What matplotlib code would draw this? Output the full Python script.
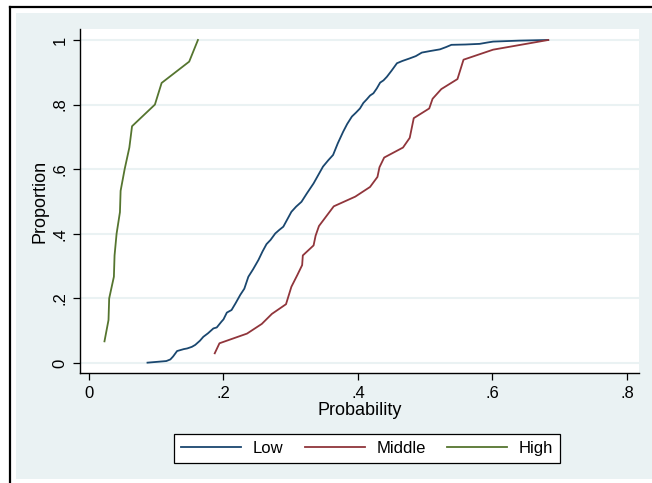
import numpy as np
import matplotlib
matplotlib.use('Agg')
import matplotlib.pyplot as plt
from matplotlib.patches import Rectangle

plt.rcParams['font.family'] = ['Liberation Sans', 'DejaVu Sans']

# Cumulative distributions
low_x = [0.087, 0.115, 0.121, 0.125, 0.131, 0.141, 0.146, 0.153, 0.158, 0.165, 0.170,
         0.177, 0.185, 0.190, 0.197, 0.200, 0.205, 0.212, 0.218, 0.225, 0.231, 0.237,
         0.244, 0.252, 0.258, 0.264, 0.270, 0.277, 0.283, 0.289, 0.295, 0.301, 0.308,
         0.316, 0.324, 0.334, 0.341, 0.348, 0.356, 0.363, 0.370, 0.378, 0.384, 0.391,
         0.397, 0.403, 0.408, 0.413, 0.418, 0.423, 0.428, 0.433, 0.438, 0.443, 0.450,
         0.458, 0.466, 0.477, 0.486, 0.495, 0.508, 0.522, 0.531, 0.539, 0.560, 0.581,
         0.592, 0.601, 0.640, 0.683]
low_y = [0.001, 0.006, 0.011, 0.020, 0.037, 0.043, 0.045, 0.050, 0.056, 0.069, 0.081,
         0.092, 0.107, 0.110, 0.128, 0.135, 0.156, 0.164, 0.185, 0.211, 0.230, 0.267,
         0.290, 0.319, 0.345, 0.368, 0.381, 0.401, 0.412, 0.422, 0.445, 0.468, 0.484,
         0.499, 0.525, 0.556, 0.582, 0.608, 0.628, 0.644, 0.680, 0.716, 0.740, 0.763,
         0.775, 0.788, 0.805, 0.816, 0.828, 0.835, 0.850, 0.868, 0.875, 0.886, 0.905,
         0.928, 0.935, 0.943, 0.950, 0.961, 0.966, 0.971, 0.978, 0.985, 0.986, 0.988,
         0.992, 0.995, 0.998, 1.000]

mid_x = [0.187, 0.194, 0.235, 0.257, 0.272, 0.293, 0.301, 0.310, 0.317, 0.318, 0.334,
         0.337, 0.342, 0.364, 0.396, 0.418, 0.429, 0.432, 0.439, 0.467, 0.477, 0.483,
         0.506, 0.511, 0.524, 0.548, 0.557, 0.601, 0.683]
mid_y = [0.030, 0.061, 0.091, 0.121, 0.152, 0.182, 0.236, 0.273, 0.303, 0.333, 0.364,
         0.394, 0.424, 0.485, 0.515, 0.545, 0.576, 0.606, 0.636, 0.667, 0.697, 0.758,
         0.788, 0.818, 0.848, 0.879, 0.939, 0.970, 1.000]

high_x = [0.023, 0.029, 0.030, 0.037, 0.038, 0.041, 0.046, 0.047, 0.053, 0.060, 0.064,
          0.098, 0.108, 0.149, 0.162]
high_y = [0.067, 0.133, 0.200, 0.267, 0.333, 0.400, 0.467, 0.533, 0.600, 0.667, 0.733,
          0.800, 0.867, 0.933, 1.000]

xticks = [0, 0.2, 0.4, 0.6, 0.8]
xlabels = ['0', '.2', '.4', '.6', '.8']
yticks = [0, 0.2, 0.4, 0.6, 0.8, 1]
ylabels = ['0', '.2', '.4', '.6', '.8', '1']

BG = '#eaf2f3'
W, H = 652, 483
fig = plt.figure(figsize=(W / 100, H / 100), dpi=100, facecolor='white')

# outer frame and shaded graph region
fig.patches.append(Rectangle((16 / W, 1 - 479 / H), 1, (479 - 13) / H,
                             transform=fig.transFigure, facecolor=BG, edgecolor='none', zorder=-10))
fig.add_artist(plt.Line2D([9.5 / W, 9.5 / W], [0, 1 - 6.5 / H], transform=fig.transFigure,
                          color='black', lw=1.6))
fig.add_artist(plt.Line2D([9.5 / W, 1], [1 - 6.5 / H, 1 - 6.5 / H], transform=fig.transFigure,
                          color='black', lw=1.6))

ax = fig.add_axes([80 / W, 1 - 373 / H, (639 - 80) / W, (373 - 29) / H])
ax.set_zorder(5)
ax.set_facecolor('white')

ax.plot(low_x, low_y, color='#1a476f', lw=1.3, label='Low')
ax.plot(mid_x, mid_y, color='#90353b', lw=1.3, label='Middle')
ax.plot(high_x, high_y, color='#55752f', lw=1.3, label='High')

ax.set_xlim(-0.0134, 0.818)
ax.set_ylim(-0.031, 1.034)
ax.set_xticks(xticks)
ax.set_xticklabels(xlabels)
ax.set_yticks(yticks)
ax.set_yticklabels(ylabels, rotation=90, va='center')
ax.grid(axis='y', color=BG, lw=1.5)
ax.set_axisbelow(True)
for s in ['top', 'right']:
    ax.spines[s].set_visible(False)
for s in ['left', 'bottom']:
    ax.spines[s].set_linewidth(1.0)
ax.tick_params(length=5, width=0.9, labelsize=12, pad=4)
ax.set_xlabel('Probability', fontsize=13, labelpad=1)
ax.set_ylabel('Proportion', fontsize=13, labelpad=3)

leg = fig.legend(loc='center', bbox_to_anchor=(367 / W, 1 - 448.5 / H), ncol=3,
                 fontsize=12, frameon=True, fancybox=False, handlelength=3.6,
                 columnspacing=1.3, handletextpad=0.7, borderpad=0.4, framealpha=1)
leg.get_frame().set_edgecolor('black')
leg.get_frame().set_linewidth(0.9)
leg.set_zorder(6)

fig.savefig('out.png', dpi=100, facecolor=fig.get_facecolor())
